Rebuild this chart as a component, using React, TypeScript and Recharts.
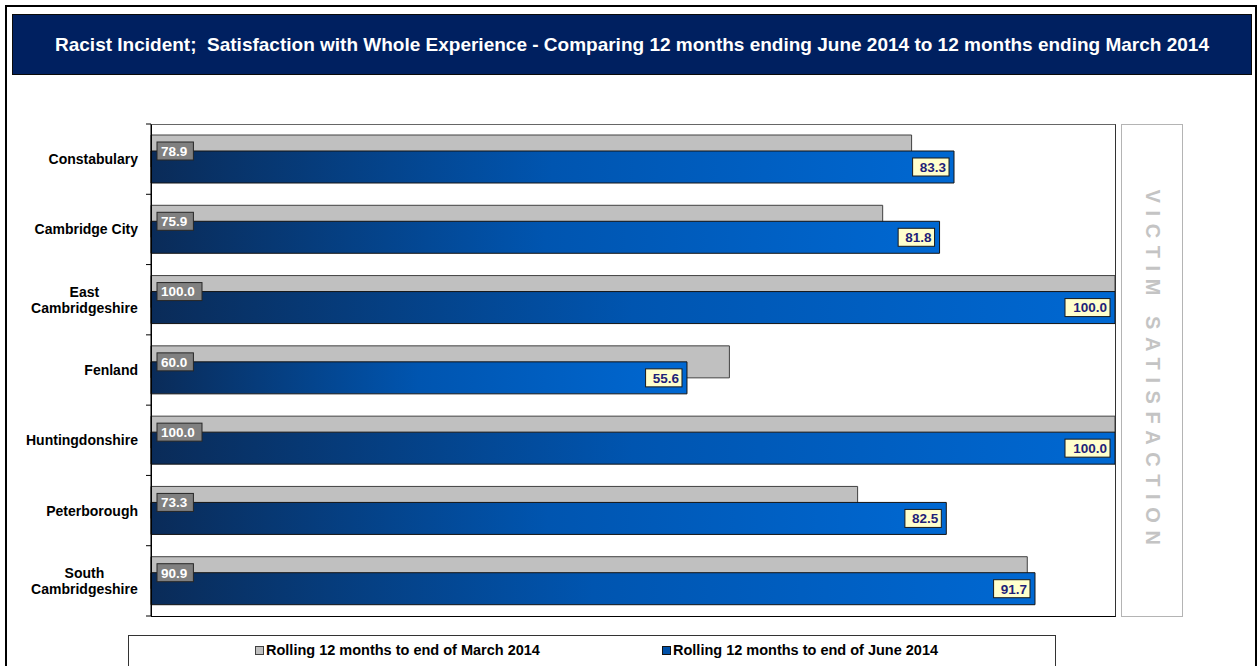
import React from "react";
import { BarChart, Bar, XAxis, YAxis, LabelList } from "recharts";

const categories = [
  "Constabulary",
  "Cambridge City",
  "East\nCambridgeshire",
  "Fenland",
  "Huntingdonshire",
  "Peterborough",
  "South\nCambridgeshire",
];
const march2014 = [78.9, 75.9, 100.0, 60.0, 100.0, 73.3, 90.9];
const june2014 = [83.3, 81.8, 100.0, 55.6, 100.0, 82.5, 91.7];

const seriesNames = [
  "Rolling 12 months to end of March 2014",
  "Rolling 12 months to end of June 2014",
];

const data = categories.map((name, i) => ({
  name,
  march: march2014[i],
  june: june2014[i],
}));

const FONT = "Arial, 'Liberation Sans', sans-serif";
const PLOT_LEFT = 151;
const PLOT_TOP = 124;
const PLOT_W = 964;
const PLOT_H = 492;
const BAND = PLOT_H / categories.length;

const CategoryTick = (props: any) => {
  const { y, payload, index } = props;
  const lines = String(payload.value).split("\n");
  const longest = Math.max(...lines.map((l) => l.length));
  const multi = lines.length > 1;
  const tx = multi ? 139 - (longest * 7.8) / 2 : 138;
  return (
    <g>
      {index === 0 && (
        <line x1={146} x2={PLOT_LEFT} y1={y - BAND / 2} y2={y - BAND / 2} stroke="#000" />
      )}
      <line x1={146} x2={PLOT_LEFT} y1={y + BAND / 2} y2={y + BAND / 2} stroke="#000" />
      {lines.map((l, i) => (
        <text
          key={i}
          x={tx}
          y={y + (i - (lines.length - 1) / 2) * 16}
          dy={5}
          textAnchor={multi ? "middle" : "end"}
          fontFamily={FONT}
          fontSize={14}
          fontWeight="bold"
          fill="#000"
        >
          {l}
        </text>
      ))}
    </g>
  );
};

const MarchLabel = (props: any) => {
  const { x, y, height, value } = props;
  const txt = Number(value).toFixed(1);
  const w = txt.length * 8.6 + 2;
  const cy = y + height / 2;
  return (
    <g>
      <rect x={x + 6} y={cy - 9} width={w} height={18} fill="#808080" stroke="#262626" />
      <text x={x + 10} y={cy + 4.8} fontFamily={FONT} fontSize={13.5} fontWeight="bold" fill="#fff">
        {txt}
      </text>
    </g>
  );
};

const JuneLabel = (props: any) => {
  const { x, y, width, height, value } = props;
  const txt = Number(value).toFixed(1);
  const w = txt.length * 8.6 + 2;
  const cy = y + height / 2;
  const right = x + width - 5;
  return (
    <g>
      <rect x={right - w} y={cy - 9} width={w} height={18} fill="#ffffcc" stroke="#1a1a1a" />
      <text
        x={right - 3}
        y={cy + 4.8}
        textAnchor="end"
        fontFamily={FONT}
        fontSize={13.5}
        fontWeight="bold"
        fill="#1f1f78"
      >
        {txt}
      </text>
    </g>
  );
};

export default function App() {
  return (
    <div
      style={{
        position: "absolute",
        left: 0,
        top: 0,
        width: 1259,
        height: 666,
        background: "#fff",
        overflow: "hidden",
        fontFamily: FONT,
      }}
    >
      {/* outer frame */}
      <div
        style={{
          position: "absolute",
          left: 5,
          top: 5,
          width: 1252,
          height: 700,
          border: "2px solid #000",
          boxSizing: "border-box",
        }}
      />
      {/* title bar */}
      <div
        style={{
          position: "absolute",
          left: 12,
          top: 14,
          width: 1240,
          height: 61,
          background: "#002060",
          border: "1px solid #0a0a0a",
          boxSizing: "border-box",
          color: "#fff",
          fontWeight: "bold",
          fontSize: 19,
          display: "flex",
          alignItems: "center",
          justifyContent: "center",
          whiteSpace: "nowrap",
        }}
      >
        Racist Incident;&nbsp; Satisfaction with Whole Experience - Comparing 12 months ending June 2014 to 12 months ending March 2014
      </div>

      <div style={{ position: "absolute", left: 0, top: 0 }}>
        <BarChart
          width={1259}
          height={666}
          data={data}
          layout="vertical"
          margin={{ top: PLOT_TOP, right: 1259 - PLOT_LEFT - PLOT_W, bottom: 666 - PLOT_TOP - PLOT_H, left: 0 }}
          barGap={-16}
        >
          <defs>
            <linearGradient id="juneGrad" x1="0" y1="0" x2="1" y2="0">
              <stop offset="0%" stopColor="#0a2b58" />
              <stop offset="50%" stopColor="#0055b0" />
              <stop offset="100%" stopColor="#0068d2" />
            </linearGradient>
          </defs>
          <XAxis type="number" domain={[0, 100]} hide />
          <YAxis
            type="category"
            dataKey="name"
            width={PLOT_LEFT}
            axisLine={{ stroke: "#000" }}
            tickLine={false}
            tick={<CategoryTick />}
            interval={0}
          />
          <Bar
            dataKey="march"
            name={seriesNames[0]}
            fill="#c0c0c0"
            stroke="#404040"
            strokeWidth={1}
            barSize={32}
            isAnimationActive={false}
          >
            <LabelList dataKey="march" content={<MarchLabel />} />
          </Bar>
          <Bar
            dataKey="june"
            name={seriesNames[1]}
            fill="url(#juneGrad)"
            stroke="#141414"
            strokeWidth={1}
            barSize={32}
            isAnimationActive={false}
          >
            <LabelList dataKey="june" content={<JuneLabel />} />
          </Bar>
        </BarChart>
      </div>

      {/* plot border */}
      <div
        style={{
          position: "absolute",
          left: PLOT_LEFT,
          top: PLOT_TOP,
          width: PLOT_W + 1,
          height: PLOT_H + 1,
          borderTop: "1px solid #666",
          borderRight: "1px solid #333",
          borderBottom: "1px solid #000",
          borderLeft: "1px solid #000",
          boxSizing: "border-box",
          pointerEvents: "none",
        }}
      />

      {/* side label */}
      <div
        style={{
          position: "absolute",
          left: 1121,
          top: 124,
          width: 62,
          height: 493,
          border: "1px solid #b4b4b4",
          boxSizing: "border-box",
        }}
      >
        <div
          style={{
            position: "absolute",
            left: "50%",
            top: "50%",
            transform: "translate(-50%, -50%) rotate(90deg)",
            whiteSpace: "nowrap",
            color: "#c4c4c4",
            fontWeight: "bold",
            fontSize: 20,
            letterSpacing: 7.6,
          }}
        >
          VICTIM SATISFACTION
        </div>
      </div>

      {/* legend */}
      <div
        style={{
          position: "absolute",
          left: 128,
          top: 635,
          width: 928,
          height: 40,
          border: "1px solid #333",
          boxSizing: "border-box",
          fontWeight: "bold",
          fontSize: 14.5,
        }}
      >
        <div style={{ position: "absolute", left: 126, top: 6, display: "flex", alignItems: "center" }}>
          <span
            style={{
              display: "inline-block",
              width: 7,
              height: 7,
              background: "#c0c0c0",
              border: "1px solid #404040",
              marginRight: 2,
            }}
          />
          {seriesNames[0]}
        </div>
        <div style={{ position: "absolute", left: 533, top: 6, display: "flex", alignItems: "center" }}>
          <span
            style={{
              display: "inline-block",
              width: 7,
              height: 7,
              background: "#0050a8",
              border: "1px solid #141414",
              marginRight: 2,
            }}
          />
          {seriesNames[1]}
        </div>
      </div>
    </div>
  );
}
